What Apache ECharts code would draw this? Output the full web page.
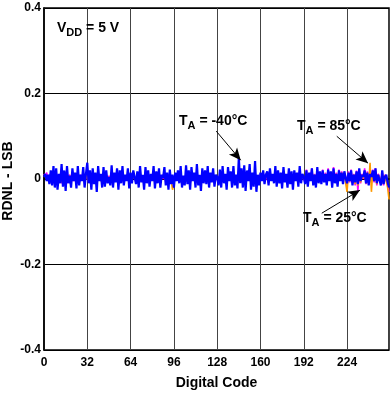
<!DOCTYPE html>
<html><head><meta charset="utf-8">
<script src="https://cdn.jsdelivr.net/npm/echarts@6/dist/echarts.min.js"></script>
<style>html,body{margin:0;padding:0;background:#fff}#c{width:390px;height:393px}</style>
</head><body><div id="c"></div>
<script>
const xTicks = [0, 32, 64, 96, 128, 160, 192, 224];
const yTicks = [-0.4, -0.2, 0, 0.2, 0.4];
const seriesNames = ['TA = -40°C', 'TA = 25°C', 'TA = 85°C'];
const yAxisTitle = 'RDNL - LSB';
const xAxisTitle = 'Digital Code';

const tMinus40 = [
 0.005, 0.012, -0.005, 0.01, -0.012, 0.02, -0.015, 0.03, -0.02, 0.025, -0.025, 0.012, -0.01, 0.035, -0.018, 0.02,
 -0.028, 0.03, -0.01, 0.008, -0.02, 0.025, -0.005, 0.015, -0.022, 0.03, -0.015, 0.01, -0.005, 0.028, -0.02, 0.012,
 0.038, -0.01, 0.02, -0.025, 0.025, -0.012, 0.015, -0.03, 0.03, -0.005, 0.012, -0.02, 0.028, -0.018, 0.02, -0.01,
 0.005, -0.015, 0.032, -0.02, 0.015, -0.008, 0.025, -0.025, 0.02, -0.01, 0.03, -0.015, 0.01, -0.005, 0.025, -0.022,
 0.015, -0.01, 0.02, 0.005, -0.012, 0.018, -0.02, 0.03, -0.008, 0.01, -0.025, 0.028, -0.01, 0.02, -0.018, 0.012,
 -0.005, 0.03, -0.022, 0.018, -0.01, 0.025, -0.02, 0.01, 0.002, 0.028, -0.015, 0.015, -0.025, 0.022, -0.012, 0.01,
 -0.02, 0.015, -0.005, 0.02, -0.01, 0.03, -0.02, 0.008, -0.015, 0.032, -0.012, 0.02, -0.025, 0.028, -0.005, 0.015,
 -0.02, 0.035, -0.015, 0.01, -0.028, 0.025, -0.01, 0.02, -0.012, 0.03, -0.02, 0.015, -0.008, 0.025, -0.018, 0.01,
 0.005, -0.015, 0.022, -0.02, 0.03, -0.01, 0.012, -0.025, 0.028, -0.005, 0.018, -0.02, 0.03, -0.015, 0.01, -0.022,
 0.05, -0.01, 0.025, -0.02, 0.032, -0.028, 0.02, -0.005, 0.035, -0.025, 0.015, -0.018, 0.042, -0.03, 0.01, -0.015,
 0.015, -0.005, 0.02, -0.012, 0.01, 0.018, -0.015, 0.025, -0.005, 0.012, -0.01, 0.03, -0.018, 0.02, -0.01, 0.015,
 -0.022, 0.028, -0.008, 0.012, -0.02, 0.025, -0.012, 0.018, -0.025, 0.02, -0.005, 0.015, -0.018, 0.03, -0.01, 0.012,
 0.005, -0.012, 0.02, -0.018, 0.015, -0.005, 0.025, -0.015, 0.01, -0.02, 0.028, -0.01, 0.018, -0.012, 0.02, -0.008,
 0.012, -0.015, 0.022, -0.005, 0.018, -0.02, 0.025, -0.01, 0.012, -0.018, 0.02, -0.005, 0.015, -0.012, 0.018, 0.002,
 -0.01, 0.015, -0.005, 0.02, -0.015, 0.01, -0.008, 0.018, -0.012, 0.025, -0.005, 0.01, 0.005, 0.02, -0.01, 0.015,
 -0.015, 0.012, 0.005, 0.02, -0.005, 0.025, -0.01, 0.01, 0.008, -0.015, 0.02, -0.012, 0.005, 0.01, -0.008, -0.02
];

const t25 = [
 0.012, 0.005, 0.015, -0.005, 0.01, -0.008, 0.012, -0.01, 0.015, -0.012, 0.008, -0.005, 0.012, -0.01, 0.01, -0.008,
 0.015, -0.01, 0.005, 0.01, -0.012, 0.015, -0.005, 0.008, -0.01, 0.012, -0.008, 0.01, 0.0, 0.015, -0.01, 0.005,
 0.018, -0.008, 0.01, -0.012, 0.015, -0.005, 0.01, -0.015, 0.012, 0.0, 0.008, -0.01, 0.015, -0.008, 0.01, -0.005,
 0.008, -0.01, 0.015, -0.012, 0.01, -0.005, 0.012, -0.015, 0.01, -0.005, 0.015, -0.01, 0.005, 0.0, 0.012, -0.012,
 0.01, -0.005, 0.012, 0.002, -0.008, 0.01, -0.012, 0.015, -0.005, 0.008, -0.012, 0.015, -0.005, 0.01, -0.01, 0.008,
 0.0, 0.015, -0.012, 0.01, -0.005, 0.012, -0.01, 0.008, 0.0, 0.015, -0.008, 0.01, -0.012, 0.012, -0.008, 0.005,
 -0.01, 0.01, -0.002, 0.012, -0.005, 0.015, -0.01, 0.005, -0.008, 0.015, -0.005, 0.012, -0.012, 0.015, 0.0, 0.01,
 -0.01, 0.018, -0.008, 0.008, -0.012, 0.015, -0.005, 0.012, -0.008, 0.015, -0.01, 0.01, -0.005, 0.015, -0.01, 0.005,
 0.008, -0.008, 0.012, -0.01, 0.015, -0.005, 0.008, -0.012, 0.015, 0.0, 0.01, -0.01, 0.015, -0.008, 0.008, -0.012,
 0.02, -0.005, 0.015, -0.01, 0.018, -0.012, 0.012, 0.0, 0.018, -0.012, 0.01, -0.008, 0.02, -0.015, 0.008, -0.008,
 0.012, 0.0, 0.015, -0.008, 0.008, 0.012, -0.01, 0.015, 0.0, 0.01, -0.005, 0.018, -0.01, 0.012, -0.005, 0.01,
 -0.012, 0.018, -0.005, 0.01, -0.012, 0.02, -0.008, 0.012, -0.015, 0.015, 0.0, 0.012, -0.01, 0.02, -0.005, 0.01,
 0.01, -0.008, 0.022, -0.012, 0.012, 0.0, 0.025, -0.01, 0.012, -0.015, 0.02, -0.005, 0.015, -0.008, 0.022, -0.005,
 0.015, -0.01, 0.025, 0.0, 0.015, -0.015, 0.028, -0.005, 0.015, -0.012, 0.022, 0.0, 0.018, -0.01, 0.015, 0.005,
 -0.015, 0.018, -0.008, 0.022, -0.01, 0.012, -0.015, 0.02, -0.028, 0.015, -0.01, 0.012, 0.0, 0.025, -0.012, 0.018,
 -0.01, 0.015, -0.005, 0.022, -0.008, 0.025, -0.015, 0.012, 0.005, -0.012, 0.018, -0.015, 0.01, 0.008, -0.015, -0.03
];

const t85 = [
 0.008, 0.01, 0.005, 0.0, 0.008, -0.005, 0.01, -0.008, 0.012, -0.01, 0.005, -0.003, 0.01, -0.008, 0.008, -0.005,
 0.012, -0.008, 0.003, 0.008, -0.01, 0.012, -0.003, 0.005, -0.008, 0.01, -0.005, 0.008, 0.002, 0.012, -0.008, 0.003,
 0.015, -0.005, 0.008, -0.01, 0.012, -0.003, 0.008, -0.012, 0.01, 0.002, 0.005, -0.008, 0.012, -0.005, 0.008, -0.003,
 0.005, -0.008, 0.012, -0.01, 0.008, -0.003, 0.01, -0.012, 0.008, -0.003, 0.012, -0.008, 0.003, 0.002, 0.01, -0.01,
 0.008, -0.003, 0.01, 0.003, -0.005, 0.008, -0.01, 0.012, -0.003, 0.005, -0.01, 0.012, -0.003, 0.008, -0.008, 0.005,
 0.002, 0.012, -0.01, 0.008, -0.003, 0.01, -0.008, 0.005, 0.002, 0.012, -0.005, 0.008, -0.01, 0.01, -0.005, -0.025,
 -0.012, 0.008, 0.0, 0.01, -0.003, 0.012, -0.008, 0.003, -0.005, 0.012, -0.003, 0.01, -0.01, 0.012, 0.002, 0.008,
 -0.008, 0.015, -0.005, 0.005, -0.01, 0.012, -0.003, 0.01, -0.005, 0.012, -0.008, 0.008, -0.003, 0.012, -0.008, 0.003,
 0.005, -0.005, 0.01, -0.008, 0.012, -0.003, 0.005, -0.01, 0.012, 0.002, 0.008, -0.008, 0.012, -0.005, 0.005, -0.01,
 0.015, -0.003, 0.012, -0.008, 0.015, -0.01, 0.01, 0.002, 0.015, -0.01, 0.008, -0.005, 0.018, -0.012, 0.005, -0.005,
 0.01, 0.002, 0.012, -0.005, 0.005, 0.01, -0.008, 0.012, 0.002, 0.008, -0.003, 0.015, -0.008, 0.01, -0.003, 0.008,
 -0.01, 0.015, -0.003, 0.008, -0.01, 0.015, -0.005, 0.01, -0.012, 0.012, 0.002, 0.01, -0.008, 0.015, -0.003, 0.008,
 0.008, -0.005, 0.015, -0.01, 0.01, 0.002, 0.018, -0.008, 0.01, -0.012, 0.015, -0.003, 0.012, -0.005, 0.015, -0.003,
 0.012, -0.008, 0.018, 0.002, 0.012, -0.012, 0.02, -0.003, 0.012, -0.01, 0.018, 0.002, 0.015, -0.008, 0.012, -0.01,
 -0.03, 0.015, -0.005, 0.012, -0.008, 0.01, -0.012, 0.015, -0.015, 0.012, -0.008, 0.01, 0.002, 0.018, -0.01, 0.015,
 -0.012, 0.038, -0.03, 0.018, -0.005, 0.02, -0.012, 0.01, 0.003, -0.01, 0.015, -0.012, 0.008, 0.005, -0.02, -0.048
];

const F = '"Liberation Sans", Arial, Helvetica, sans-serif';
const pairs = arr => arr.map((v, i) => [i, v]);

function label(txt, sub, rest, left, top) {
  return {
    type: 'text', left: left, top: top, z: 100,
    style: {
      text: '{m|' + txt + '}{s|' + sub + '}{m|' + rest + '}',
      rich: {
        m: { fontSize: 14, fontWeight: 'bold', fontFamily: F, fill: '#000', lineHeight: 17 },
        s: { fontSize: 11, fontWeight: 'bold', fontFamily: F, fill: '#000', padding: [9, 0, 0, 0] }
      }
    }
  };
}

const chart = echarts.init(document.getElementById('c'), null, { renderer: 'canvas' });
chart.setOption({
  animation: false,
  backgroundColor: '#fff',
  grid: { left: 44, right: 1, top: 8, bottom: 43, show: true, borderColor: '#000', borderWidth: 1.5,
          containLabel: false, outerBoundsMode: 'none' },
  xAxis: {
    type: 'value', min: 0, max: 255, interval: 32,
    name: xAxisTitle, nameLocation: 'middle', nameGap: 26,
    nameTextStyle: { fontSize: 14, fontWeight: 'bold', fontFamily: F, color: '#000' },
    axisLine: { show: true, lineStyle: { color: '#000', width: 1.5 } },
    axisTick: { show: false },
    axisLabel: { fontSize: 12, fontWeight: 'bold', fontFamily: F, color: '#000', margin: 7,
      showMaxLabel: false,
      formatter: v => xTicks.indexOf(v) >= 0 ? String(v) : '' },
    splitLine: { show: true, lineStyle: { color: '#444', width: 1 } }
  },
  yAxis: {
    type: 'value', min: -0.4, max: 0.4, interval: 0.2,
    axisLine: { show: true, lineStyle: { color: '#000', width: 1.5 } },
    axisTick: { show: false },
    axisLabel: { fontSize: 12, fontWeight: 'bold', fontFamily: F, color: '#000', margin: 3,
      formatter: v => { const t = yTicks.find(k => Math.abs(k - v) < 1e-9); return t === 0 ? '0' : t.toFixed(1); } },
    splitLine: { show: true, lineStyle: { color: '#000', width: 1 } }
  },
  series: [
    { name: seriesNames[1], type: 'line', data: pairs(t25), showSymbol: false, symbol: 'none',
      lineStyle: { color: '#ff00ff', width: 1.6 }, itemStyle: { color: '#ff00ff' }, z: 2 },
    { name: seriesNames[2], type: 'line', data: pairs(t85), showSymbol: false, symbol: 'none',
      lineStyle: { color: '#ff9900', width: 1.6 }, itemStyle: { color: '#ff9900' }, z: 3 },
    { name: seriesNames[0], type: 'line', data: pairs(tMinus40), showSymbol: false, symbol: 'none',
      lineStyle: { color: '#0000ff', width: 2.2 }, itemStyle: { color: '#0000ff' }, z: 4,
      markLine: {
        silent: true, symbol: ['none', 'arrow'], symbolSize: [8, 12],
        label: { show: false },
        lineStyle: { color: '#000', width: 1, type: 'solid' },
        data: [
          [{ coord: [127.3, 0.112] }, { coord: [145.4, 0.044] }],
          [{ coord: [216.4, 0.100] }, { coord: [239.5, 0.037] }],
          [{ coord: [205.3, -0.080] }, { coord: [233.6, -0.026] }]
        ]
      } }
  ],
  graphic: [
    { type: 'text', x: 8, y: 181, rotation: Math.PI / 2, z: 100,
      style: { text: yAxisTitle, align: 'center', verticalAlign: 'middle',
               font: 'bold 14px ' + F, fill: '#000' } },
    label('V', 'DD', ' = 5 V', 57, 21),
    label('T', 'A', ' = -40°C', 179, 114),
    label('T', 'A', ' = 85°C', 297, 119),
    label('T', 'A', ' = 25°C', 303, 211)
  ]
});
</script>
</body></html>
